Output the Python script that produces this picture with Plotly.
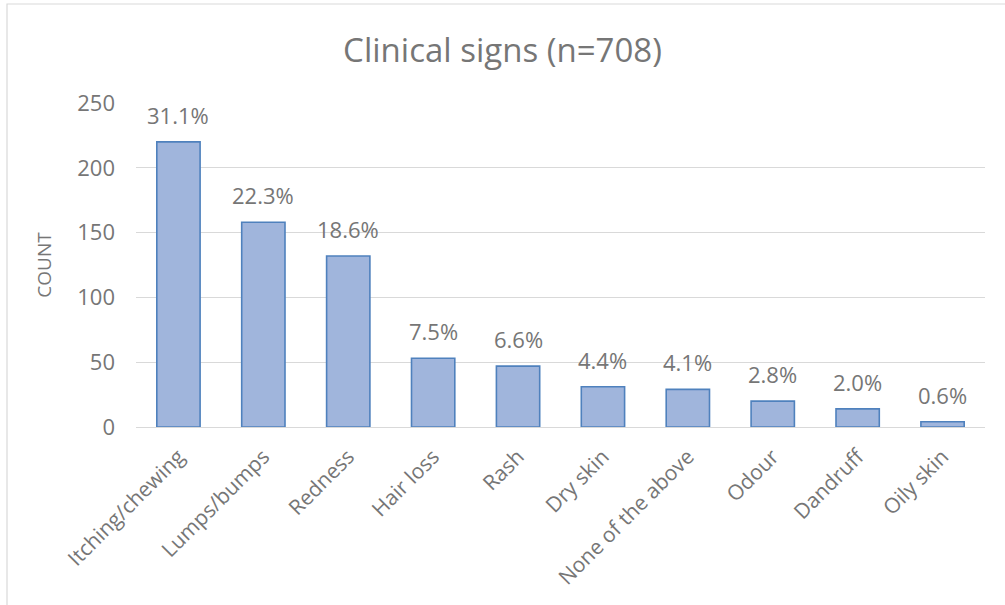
import plotly.graph_objects as go

# Survey responses: clinical signs reported (n = 708)
categories = ["Itching/chewing", "Lumps/bumps", "Redness", "Hair loss", "Rash",
              "Dry skin", "None of the above", "Odour", "Dandruff", "Oily skin"]
counts = [220, 158, 132, 53, 47, 31, 29, 20, 14, 4]
total = 708
y_ticks = [0, 50, 100, 150, 200, 250]

pct_labels = [f"{c / total * 100:.1f}%" for c in counts]

W, H = 1005, 605
L, R, T, B = 136, 20, 103, 178
FONT = "Open Sans"
GREY = "#767676"

fig = go.Figure()
fig.add_trace(go.Bar(
    x=categories,
    y=counts,
    marker=dict(color="#A0B5DC", line=dict(color="#4F81BD", width=1.6)),
    hoverinfo="x+y",
))

# Percentage labels above each bar
for cat, c, lab in zip(categories, counts, pct_labels):
    fig.add_annotation(x=cat, y=c, text=lab, showarrow=False,
                       yanchor="bottom", yshift=10,
                       font=dict(family=FONT, size=22, color=GREY))

# Chart-area outline (top and left edges visible)
pw, ph = W - L - R, H - T - B
fig.add_shape(type="rect", xref="paper", yref="paper",
              x0=(7 - L) / pw, x1=(W + 5 - L) / pw,
              y0=-(B + 5) / ph, y1=(H - B - 4) / ph,
              line=dict(color="#D9D9D9", width=1.2), fillcolor="rgba(0,0,0,0)",
              layer="below")

fig.update_layout(
    width=W, height=H,
    margin=dict(l=L, r=R, t=T, b=B, autoexpand=False),
    paper_bgcolor="white", plot_bgcolor="white",
    bargap=0.49,
    showlegend=False,
    title=dict(text="Clinical signs (n=708)", x=0.5, xref="container",
               xanchor="center", y=1 - 50 / H, yanchor="middle",
               font=dict(family=FONT, size=33, color=GREY)),
    font=dict(family=FONT, color=GREY),
)
fig.update_xaxes(
    tickangle=-45, tickfont=dict(family=FONT, size=21, color=GREY),
    showgrid=False, showline=True, linecolor="#D9D9D9", linewidth=1.2,
    ticks="", ticklabelstandoff=8, automargin=False,
)
fig.update_yaxes(
    range=[0, 250], tickvals=y_ticks,
    tickfont=dict(family=FONT, size=22, color=GREY),
    showgrid=True, gridcolor="#D9D9D9", gridwidth=1.2,
    zeroline=False, showline=False, ticks="", ticklabelstandoff=20,
    automargin=False,
    title=dict(text="COUNT", font=dict(family=FONT, size=19, color=GREY), standoff=20),
)

fig.write_html("out.html")
